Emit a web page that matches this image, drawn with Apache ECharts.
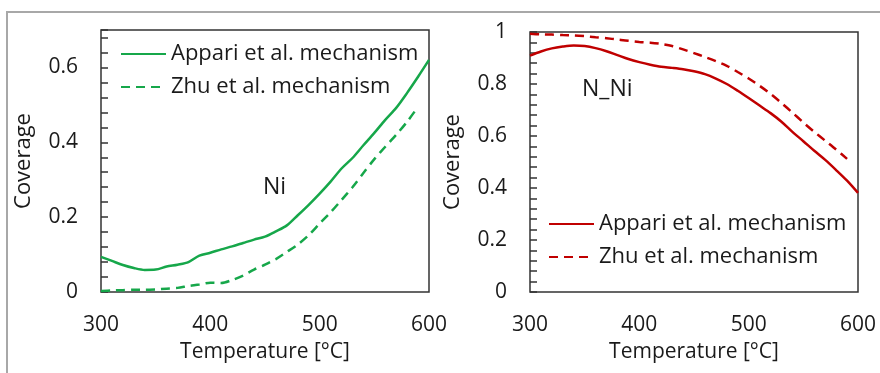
<!DOCTYPE html>
<html>
<head>
<meta charset="utf-8">
<script src="https://cdn.jsdelivr.net/npm/echarts@6/dist/echarts.min.js"></script>
<style>
  html, body { margin: 0; padding: 0; background: #fff; }
  #frame { position: absolute; left: 6px; top: 11px; width: 880px; height: 380px;
           border-top: 2px solid #a8a8a8; border-left: 2px solid #a8a8a8; }
  #chart { position: absolute; left: 0; top: 0; width: 880px; height: 373px; }
</style>
</head>
<body>
<div id="frame"></div>
<div id="chart"></div>
<script>
// temperatures (°C)
const temps = [300, 310, 320, 330, 340, 350, 360, 370, 380, 390, 400, 410, 420, 430, 440, 450,
  460, 470, 480, 490, 500, 510, 520, 530, 540, 550, 560, 570, 580, 590, 600];

// Ni coverage
const niAppari = [0.094, 0.083, 0.072, 0.064, 0.059, 0.060, 0.068, 0.073, 0.080, 0.097, 0.105,
  0.114, 0.122, 0.131, 0.140, 0.148, 0.162, 0.178, 0.205, 0.233, 0.263, 0.295, 0.330, 0.358,
  0.392, 0.425, 0.460, 0.492, 0.532, 0.575, 0.620];
const niZhu = [0.003, 0.004, 0.005, 0.006, 0.006, 0.007, 0.009, 0.011, 0.016, 0.020, 0.025,
  0.024, 0.032, 0.044, 0.060, 0.073, 0.088, 0.107, 0.127, 0.152, 0.183, 0.213, 0.246, 0.280,
  0.318, 0.355, 0.388, 0.420, 0.455, 0.495];

// N_Ni coverage
const nniAppari = [0.909, 0.925, 0.937, 0.944, 0.948, 0.946, 0.938, 0.926, 0.911, 0.896, 0.884,
  0.874, 0.866, 0.862, 0.857, 0.849, 0.838, 0.821, 0.800, 0.774, 0.746, 0.717, 0.688, 0.655,
  0.616, 0.580, 0.543, 0.508, 0.469, 0.428, 0.381];
const nniZhu = [0.993, 0.991, 0.990, 0.988, 0.987, 0.984, 0.980, 0.976, 0.971, 0.966, 0.962,
  0.959, 0.954, 0.946, 0.933, 0.919, 0.904, 0.888, 0.870, 0.846, 0.821, 0.793, 0.762, 0.727,
  0.690, 0.652, 0.616, 0.582, 0.548, 0.512];

const xTicks = [300, 400, 500, 600];
const yLabelsNi = ['0', '0.2', '0.4', '0.6'];
const yLabelsNNi = ['0', '0.2', '0.4', '0.6', '0.8', '1'];

const GREEN = '#16a74a';
const RED = '#c00000';
const FONT = 'Open Sans';
const TEXT = '#1a1a1a';

const pairs = (vals) => vals.map((v, i) => [temps[i], v]);
const labelFor = (labels) => (v) => {
  const s = String(Math.round(v * 100) / 100);
  return labels.includes(s) ? s : '';
};

function xAxis(gridIndex) {
  return {
    gridIndex, type: 'value', min: xTicks[0], max: xTicks[xTicks.length - 1], interval: 100,
    axisLine: { show: false }, axisTick: { show: false }, splitLine: { show: false },
    axisLabel: { margin: 23, color: TEXT, fontFamily: FONT, fontSize: 21 },
    name: 'Temperature [°C]', nameLocation: 'middle', nameGap: 50,
    nameTextStyle: { color: TEXT, fontFamily: FONT, fontSize: 21 }
  };
}
function yAxis(gridIndex, max, labels) {
  return {
    gridIndex, type: 'value', min: 0, max, interval: 0.04,
    axisLine: { show: false }, splitLine: { show: false },
    axisTick: { show: true, inside: true, length: 7, lineStyle: { color: '#333', width: 1.5 } },
    axisLabel: { margin: 23, color: TEXT, fontFamily: FONT, fontSize: 21, showMaxLabel: true,
      formatter: labelFor(labels) },
    name: 'Coverage', nameLocation: 'middle', nameGap: 66,
    nameTextStyle: { color: TEXT, fontFamily: FONT, fontSize: 22 }
  };
}
function line(name, color, data, dashed, idx) {
  return {
    name, type: 'line', xAxisIndex: idx, yAxisIndex: idx, data, smooth: 0.3,
    showSymbol: false, symbol: 'none', color,
    lineStyle: { color, width: 2.5, type: dashed ? [9, 6] : 'solid' }
  };
}
const legendBase = {
  orient: 'vertical', padding: 0, itemWidth: 45, itemHeight: 14, itemGap: 11,
  itemStyle: { opacity: 0 },
  textStyle: { color: TEXT, fontFamily: FONT, fontSize: 22 },
  formatter: (n) => n.split('|')[0]
};

const chart = echarts.init(document.getElementById('chart'), null, { renderer: 'canvas' });
chart.setOption({
  animation: false,
  grid: [
    { left: 101, top: 30, width: 328, height: 262, show: true, borderColor: '#333', borderWidth: 1.5 },
    { left: 530, top: 32, width: 328, height: 260, show: true, borderColor: '#333', borderWidth: 1.5 }
  ],
  xAxis: [xAxis(0), xAxis(1)],
  yAxis: [yAxis(0, 0.7, yLabelsNi), yAxis(1, 1, yLabelsNNi)],
  legend: [
    Object.assign({}, legendBase, { left: 120, top: 43,
      data: ['Appari et al. mechanism|Ni', 'Zhu et al. mechanism|Ni'] }),
    Object.assign({}, legendBase, { left: 548, top: 213,
      data: ['Appari et al. mechanism|N_Ni', 'Zhu et al. mechanism|N_Ni'] })
  ],
  graphic: [
    { type: 'text', left: 263, top: 176, style: { text: 'Ni', fill: TEXT, font: '23px "Open Sans"' } },
    { type: 'text', left: 582, top: 78, style: { text: 'N_Ni', fill: TEXT, font: '23px "Open Sans"' } }
  ],
  series: [
    line('Appari et al. mechanism|Ni', GREEN, pairs(niAppari), false, 0),
    line('Zhu et al. mechanism|Ni', GREEN, pairs(niZhu), true, 0),
    line('Appari et al. mechanism|N_Ni', RED, pairs(nniAppari), false, 1),
    line('Zhu et al. mechanism|N_Ni', RED, pairs(nniZhu), true, 1)
  ]
});
</script>
</body>
</html>
